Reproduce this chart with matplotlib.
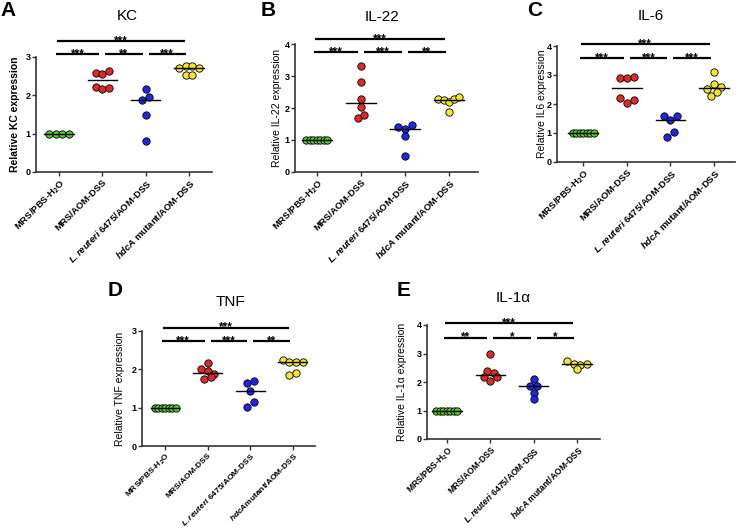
import matplotlib
matplotlib.use("Agg")
import matplotlib.pyplot as plt
import numpy as np

plt.rcParams['font.family'] = ['Liberation Sans', 'DejaVu Sans']
plt.rcParams['mathtext.fontset'] = 'custom'
plt.rcParams['mathtext.rm'] = 'Liberation Sans:bold'
plt.rcParams['mathtext.it'] = 'Liberation Sans:italic:bold'
plt.rcParams['mathtext.bf'] = 'Liberation Sans:bold'

W, H = 738, 530

# --- data -------------------------------------------------------------
group_labels = ["MRS/PBS-H$_2$O", "MRS/AOM-DSS",
                r"$\mathit{L.reuteri}$ 6475/AOM-DSS",
                r"$\mathit{hdcA}$ mutant/AOM-DSS"]
group_labels_tnf = ["MRS/PBS-H$_2$O", "MRS/AOM-DSS",
                    r"$\mathit{L.reuteri}$ 6475/AOM-DSS",
                    r"$\mathit{hdcA}$mutant/AOM-DSS"]

kc_ctrl = [1.00, 1.00, 1.00, 1.00]
kc_aom = [2.57, 2.55, 2.63, 2.23, 2.16, 2.20]
kc_reuteri = [2.17, 1.87, 1.95, 1.49, 0.80]
kc_hdca = [2.70, 2.77, 2.77, 2.70, 2.53, 2.53]
kc_stars = ["***", "**", "***"]
kc_star_all = "***"

il22_ctrl = [1.00, 1.00, 1.00, 1.00, 1.00, 1.00, 1.00]
il22_aom = [3.30, 2.80, 2.28, 2.02, 1.68, 1.79]
il22_reuteri = [1.40, 1.33, 1.48, 1.13, 0.51]
il22_hdca = [2.29, 2.25, 2.18, 2.27, 2.34, 1.87]
il22_stars = ["***", "***", "**"]
il22_star_all = "***"

il6_ctrl = [1.00, 1.00, 1.00, 1.00, 1.00, 1.00, 1.00]
il6_aom = [2.88, 2.88, 2.92, 2.21, 2.04, 2.14]
il6_reuteri = [1.57, 1.44, 1.57, 0.86, 1.02]
il6_hdca = [3.12, 2.52, 2.69, 2.60, 2.28, 2.43]
il6_stars = ["***", "***", "***"]
il6_star_all = "***"

tnf_ctrl = [1.00, 1.00, 1.00, 1.00, 1.00, 1.00, 1.00]
tnf_aom = [2.17, 2.00, 1.95, 1.87, 1.75, 1.79]
tnf_reuteri = [1.65, 1.69, 1.44, 1.02, 1.15]
tnf_hdca = [2.24, 2.19, 2.19, 2.19, 1.86, 1.91]
tnf_stars = ["***", "***", "**"]
tnf_star_all = "***"

il1a_ctrl = [1.00, 1.00, 1.00, 1.00, 1.00, 1.00, 1.00]
il1a_aom = [3.00, 2.38, 2.33, 2.16, 2.04, 2.16]
il1a_reuteri = [2.12, 1.87, 1.87, 1.63, 1.40]
il1a_hdca = [2.72, 2.62, 2.60, 2.64, 2.45]
il1a_stars = ["**", "*", "*"]
il1a_star_all = "***"

# --- style ------------------------------------------------------------
group_colors = ['#55cc22', '#e02a2a', '#2424e6', '#f4e62c']


def swarm_offsets(values, px_x, px_y, row_h=5.5, step=6.8, max_w=21):
    """Раскладка точек рядами (как в GraphPad): близкие по y точки - в один ряд."""
    order = sorted(range(len(values)), key=lambda k: -values[k])
    rows = []
    for k in order:
        if rows and (values[rows[-1][0]] - values[k]) * px_y < row_h:
            rows[-1].append(k)
        else:
            rows.append([k])
    offsets = np.zeros(len(values))
    for row in rows:
        row = sorted(row)
        n = len(row)
        gap = step if n < 2 else min(step, max_w / (n - 1))
        for m, k in enumerate(row):
            offsets[k] = (m - (n - 1) / 2) * gap / px_x
    return offsets


def bracket(ax, x0, x1, y, stars):
    ax.plot([x0, x1], [y, y], color='black', lw=1.6, clip_on=False,
            solid_capstyle='butt')
    ax.annotate(stars, xy=((x0 + x1) / 2, y), xytext=(0, -2.2),
                textcoords='offset points', ha='center', va='baseline',
                fontsize=8.5, fontweight='bold', annotation_clip=False)


def draw_panel(fig, box, groups, labels, ymax, xlim, levels, stars, star_all,
               title, title_xy, letter, letter_xy, ylabel, ylabel_x,
               ylabel_bold=False, tick_fs=6.8):
    l, r, t, b = box
    ax = fig.add_axes([l / W, 1 - b / H, (r - l) / W, (b - t) / H])
    ax.set_xlim(*xlim)
    ax.set_ylim(0, ymax)
    px_x = (r - l) / (xlim[1] - xlim[0])
    px_y = (b - t) / ymax

    for i, vals in enumerate(groups):
        off = swarm_offsets(vals, px_x, px_y)
        ax.scatter(i + off, vals, s=28, color=group_colors[i],
                   edgecolor='black', linewidth=0.6, zorder=2, clip_on=False)
        med = np.median(vals)
        ax.plot([i - 0.34, i + 0.34], [med, med], color='black', lw=1.0,
                zorder=3)

    for i in range(3):
        x0 = i + (0.07 if i > 0 else -0.07)
        bracket(ax, x0, i + 1 - 0.07, levels[0], stars[i])
    bracket(ax, -0.05, 2.9, levels[1], star_all)

    ax.set_yticks(range(int(ymax) + 1))
    ax.set_xticks(range(4))
    ax.set_xticklabels(labels, rotation=45, ha='right', va='top',
                       rotation_mode='anchor', fontweight='bold',
                       fontsize=tick_fs)
    for lbl in ax.get_yticklabels():
        lbl.set_fontweight('bold')
        lbl.set_fontsize(6.5)
    ax.tick_params(direction='out', length=3, width=1, pad=1,
                   color='#333333')
    for side in ['top', 'right']:
        ax.spines[side].set_visible(False)
    for side in ['left', 'bottom']:
        ax.spines[side].set_linewidth(1.2)
        ax.spines[side].set_color('#333333')

    fig.text(title_xy[0] / W, 1 - title_xy[1] / H, title, fontsize=11,
             ha='center', va='center')
    fig.text(letter_xy[0] / W, 1 - letter_xy[1] / H, letter, fontsize=15,
             fontweight='bold', ha='center', va='center')
    fig.text(ylabel_x / W, 1 - (t + b) / 2 / H, ylabel, rotation=90,
             fontsize=7.5, ha='center', va='center',
             fontweight='bold' if ylabel_bold else 'normal')
    return ax


def main() -> None:
    fig = plt.figure(figsize=(W / 100, H / 100), dpi=100)

    draw_panel(fig, (36, 212, 57, 172), [kc_ctrl, kc_aom, kc_reuteri, kc_hdca],
               group_labels, 3, (-0.53, 3.53), (3.08, 3.42), kc_stars,
               kc_star_all, "KC", (127, 16), "A", (8, 11),
               "Relative KC expression", 15, ylabel_bold=True)
    draw_panel(fig, (295, 478, 44, 172),
               [il22_ctrl, il22_aom, il22_reuteri, il22_hdca],
               group_labels, 4, (-0.5, 3.66), (3.74, 4.16), il22_stars,
               il22_star_all, "IL-22", (382, 17), "B", (268, 11),
               "Relative IL-22 expression", 277)
    draw_panel(fig, (557, 735, 46, 162),
               [il6_ctrl, il6_aom, il6_reuteri, il6_hdca],
               group_labels, 4, (-0.6, 3.48), (3.58, 4.06), il6_stars,
               il6_star_all, "IL-6", (651, 16), "C", (535, 11),
               "Relative IL6 expression", 542)
    draw_panel(fig, (142, 315, 331, 446),
               [tnf_ctrl, tnf_aom, tnf_reuteri, tnf_hdca],
               group_labels_tnf, 3, (-0.54, 3.52), (2.73, 3.09), tnf_stars,
               tnf_star_all, "TNF", (230, 302), "D", (115, 290),
               "Relative TNF expression", 120, tick_fs=6.0)
    draw_panel(fig, (427, 600, 325, 439),
               [il1a_ctrl, il1a_aom, il1a_reuteri, il1a_hdca],
               group_labels, 4, (-0.46, 3.53), (3.56, 4.06), il1a_stars,
               il1a_star_all, "IL-1α", (513, 298), "E", (404, 290),
               "Relative IL-1α expression", 402, tick_fs=6.2)

    fig.savefig('out.png', dpi=100)
    plt.close(fig)


if __name__ == "__main__":
    main()
